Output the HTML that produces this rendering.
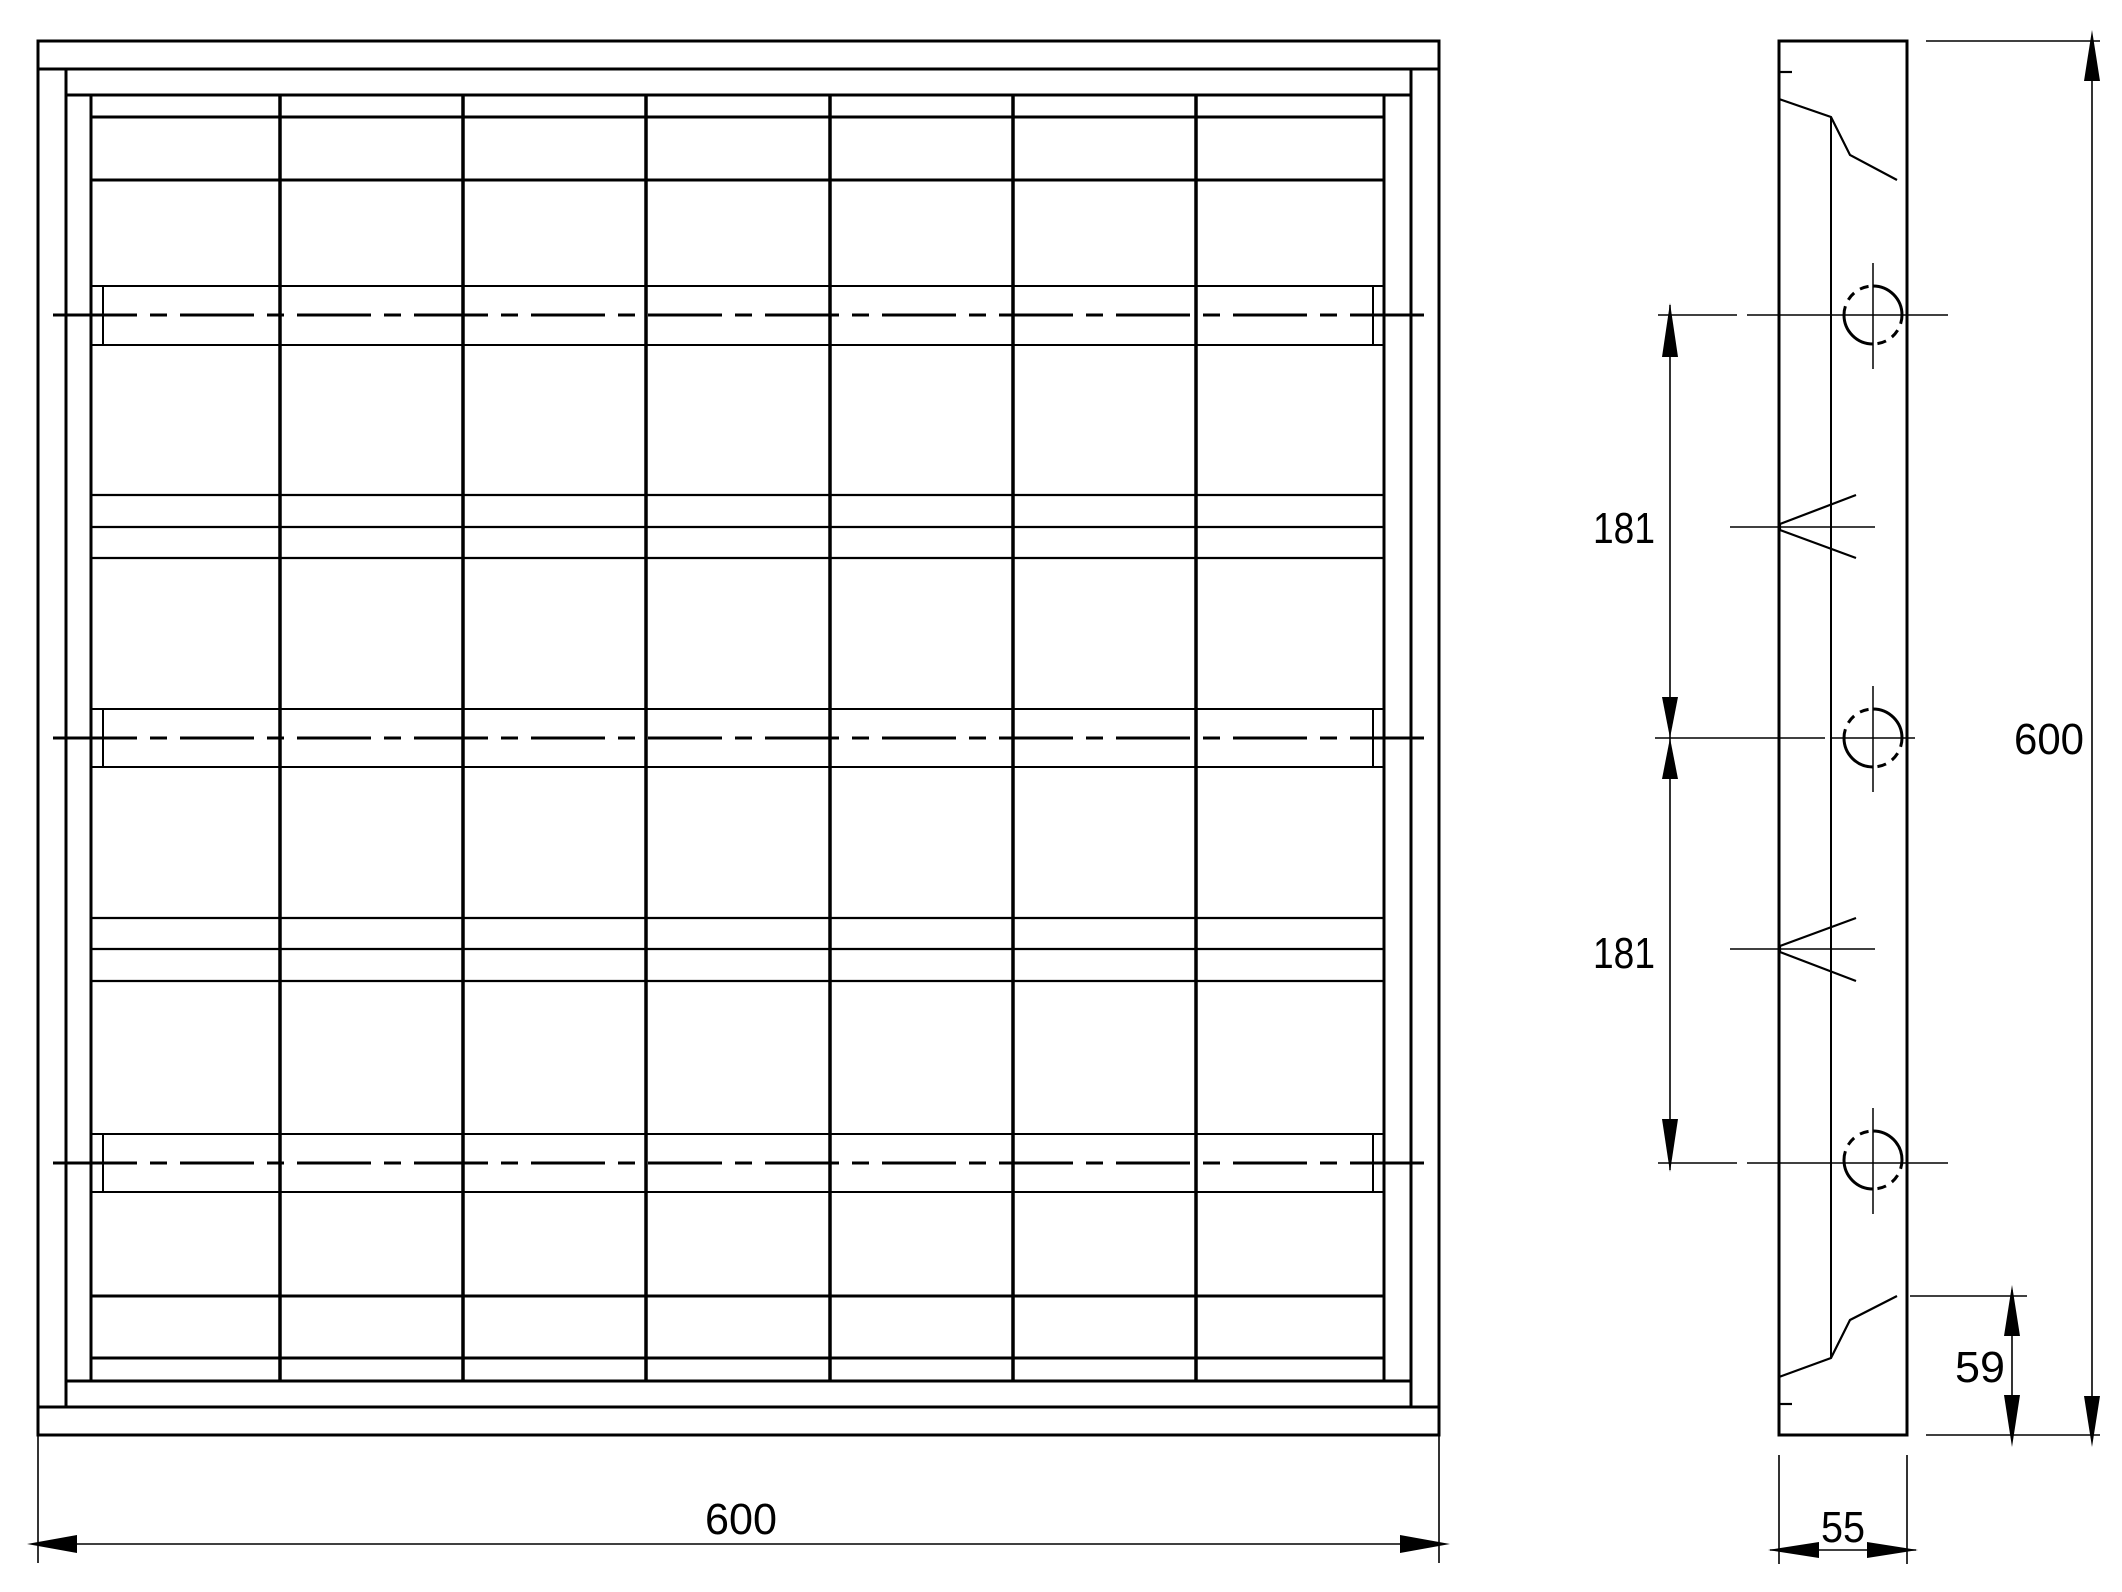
<!DOCTYPE html>
<html><head><meta charset="utf-8"><style>
html,body{margin:0;padding:0;background:#fff;}
svg{display:block;}
text{font-family:"Liberation Sans",sans-serif;font-size:44px;fill:#000;}
</style></head><body>
<svg width="2122" height="1592" viewBox="0 0 2122 1592" xmlns="http://www.w3.org/2000/svg">
<defs>
<g id="hole">
  <line x1="0" y1="-52" x2="0" y2="54" stroke="#000" stroke-width="1.5"/>
  <path d="M0,-29 A29,29 0 0 1 29,0" fill="none" stroke="#000" stroke-width="3"/>
  <path d="M29,0 A29,29 0 0 1 0,29" fill="none" stroke="#000" stroke-width="3" stroke-dasharray="9 7"/>
  <path d="M0,29 A29,29 0 0 1 -29,0" fill="none" stroke="#000" stroke-width="3"/>
  <path d="M-29,0 A29,29 0 0 1 0,-29" fill="none" stroke="#000" stroke-width="3" stroke-dasharray="9 7"/>
</g>
</defs>
<g stroke="#000" fill="none">
<g stroke-width="3">
<rect x="38" y="41" width="1401" height="1394"/>
<line x1="38" y1="69" x2="1439" y2="69"/>
<line x1="38" y1="1407" x2="1439" y2="1407"/>
<line x1="66" y1="69" x2="66" y2="1407"/>
<line x1="1411" y1="69" x2="1411" y2="1407"/>
<line x1="66" y1="95" x2="1411" y2="95"/>
<line x1="66" y1="1381" x2="1411" y2="1381"/>
<line x1="91" y1="95" x2="91" y2="1381"/>
<line x1="1384" y1="95" x2="1384" y2="1381"/>
<line x1="91" y1="117" x2="1384" y2="117"/>
<line x1="91" y1="180" x2="1384" y2="180"/>
<line x1="91" y1="1296" x2="1384" y2="1296"/>
<line x1="91" y1="1358" x2="1384" y2="1358"/>
</g>
<g stroke-width="3.5">
<line x1="280" y1="95" x2="280" y2="1381"/>
<line x1="463" y1="95" x2="463" y2="1381"/>
<line x1="646" y1="95" x2="646" y2="1381"/>
<line x1="830" y1="95" x2="830" y2="1381"/>
<line x1="1013" y1="95" x2="1013" y2="1381"/>
<line x1="1196" y1="95" x2="1196" y2="1381"/>
</g>
<g stroke-width="2.2">
<line x1="91" y1="495" x2="1384" y2="495"/>
<line x1="91" y1="527" x2="1384" y2="527"/>
<line x1="91" y1="558" x2="1384" y2="558"/>
<line x1="91" y1="918" x2="1384" y2="918"/>
<line x1="91" y1="949" x2="1384" y2="949"/>
<line x1="91" y1="981" x2="1384" y2="981"/>
</g>
<g stroke-width="2" stroke="#000">
<line x1="91" y1="286" x2="1384" y2="286"/><line x1="91" y1="345" x2="1384" y2="345"/>
<line x1="103" y1="286" x2="103" y2="345"/><line x1="1373" y1="286" x2="1373" y2="345"/>
<line x1="91" y1="709" x2="1384" y2="709"/><line x1="91" y1="767" x2="1384" y2="767"/>
<line x1="103" y1="709" x2="103" y2="767"/><line x1="1373" y1="709" x2="1373" y2="767"/>
<line x1="91" y1="1134" x2="1384" y2="1134"/><line x1="91" y1="1192" x2="1384" y2="1192"/>
<line x1="103" y1="1134" x2="103" y2="1192"/><line x1="1373" y1="1134" x2="1373" y2="1192"/>
</g>
<g stroke-width="3" stroke-dasharray="84 13 17 13 74 13 17 13 74 13 17 13 74 13 17 13 74 13 17 13 74 13 17 13 74 13 17 13 74 13 17 13 74 13 17 13 74 13 17 13 74 13 17 13 74 13 17 13 74 13 17 13 74 13 17 13 74 13 17 13 74 13 17 13 74 13 17 13 74 13 17 13 74 13 17 13 200">
<line x1="53" y1="315" x2="1432" y2="315"/>
<line x1="53" y1="738" x2="1432" y2="738"/>
<line x1="53" y1="1163" x2="1432" y2="1163"/>
</g>
<g stroke-width="1.6">
<line x1="38" y1="1435" x2="38" y2="1563"/>
<line x1="1439" y1="1435" x2="1439" y2="1563"/>
<line x1="60" y1="1544" x2="1420" y2="1544"/>
</g>
</g>
<polygon points="27,1544 77,1535 77,1553" fill="#000"/>
<polygon points="1450,1544 1400,1535 1400,1553" fill="#000"/>
<text x="741" y="1534" text-anchor="middle" textLength="72" lengthAdjust="spacingAndGlyphs">600</text>

<g stroke="#000" fill="none">
<rect x="1779" y="41" width="128" height="1394" stroke-width="3"/>
<line x1="1831" y1="117" x2="1831" y2="1358" stroke-width="2"/>
<g stroke-width="2.2">
<line x1="1779" y1="72" x2="1792" y2="72"/>
<polyline points="1779,99 1831,117 1850,155 1897,180"/>
<polyline points="1779,1377 1831,1358 1850,1320 1897,1296"/>
<line x1="1779" y1="1404" x2="1792" y2="1404"/>
<polyline points="1856,495 1780,524 1780,530 1856,558"/>
<polyline points="1856,918 1780,946 1780,952 1856,981"/>
</g>
<g stroke-width="1.6">
<line x1="1730" y1="527" x2="1875" y2="527"/>
<line x1="1730" y1="949" x2="1875" y2="949"/>
<line x1="1658" y1="315" x2="1737" y2="315"/><line x1="1747" y1="315" x2="1948" y2="315"/>
<line x1="1655" y1="738" x2="1825" y2="738"/><line x1="1830" y1="738" x2="1915" y2="738"/>
<line x1="1658" y1="1163" x2="1737" y2="1163"/><line x1="1747" y1="1163" x2="1948" y2="1163"/>
<line x1="1670" y1="305" x2="1670" y2="1170"/>
<line x1="1926" y1="41" x2="2100" y2="41"/>
<line x1="1926" y1="1435" x2="2100" y2="1435"/>
<line x1="2092" y1="40" x2="2092" y2="1440"/>
<line x1="1910" y1="1296" x2="2027" y2="1296"/>
<line x1="2012" y1="1290" x2="2012" y2="1440"/>
<line x1="1779" y1="1455" x2="1779" y2="1564"/>
<line x1="1907" y1="1455" x2="1907" y2="1564"/>
<line x1="1770" y1="1550" x2="1916" y2="1550"/>
</g>
</g>
<use href="#hole" x="1873" y="315"/>
<use href="#hole" x="1873" y="738"/>
<use href="#hole" x="1873" y="1160"/>
<g fill="#000">
<polygon points="1670,303 1662,357 1678,357"/>
<polygon points="1670,738 1662,697 1678,697"/>
<polygon points="1670,738 1662,779 1678,779"/>
<polygon points="1670,1172 1662,1119 1678,1119"/>
<polygon points="2092,30 2084,81 2100,81"/>
<polygon points="2092,1447 2084,1396 2100,1396"/>
<polygon points="2012,1285 2004,1336 2020,1336"/>
<polygon points="2012,1447 2004,1395 2020,1395"/>
<polygon points="1768,1550 1819,1542 1819,1558"/>
<polygon points="1918,1550 1867,1542 1867,1558"/>
</g>
<text x="1624" y="543" text-anchor="middle" textLength="62" lengthAdjust="spacingAndGlyphs">181</text>
<text x="1624" y="968" text-anchor="middle" textLength="62" lengthAdjust="spacingAndGlyphs">181</text>
<text x="2049" y="754" text-anchor="middle" textLength="70" lengthAdjust="spacingAndGlyphs">600</text>
<text x="1980" y="1382" text-anchor="middle" textLength="50" lengthAdjust="spacingAndGlyphs">59</text>
<text x="1843" y="1542" text-anchor="middle" textLength="44" lengthAdjust="spacingAndGlyphs">55</text>
</svg>
</body></html>
